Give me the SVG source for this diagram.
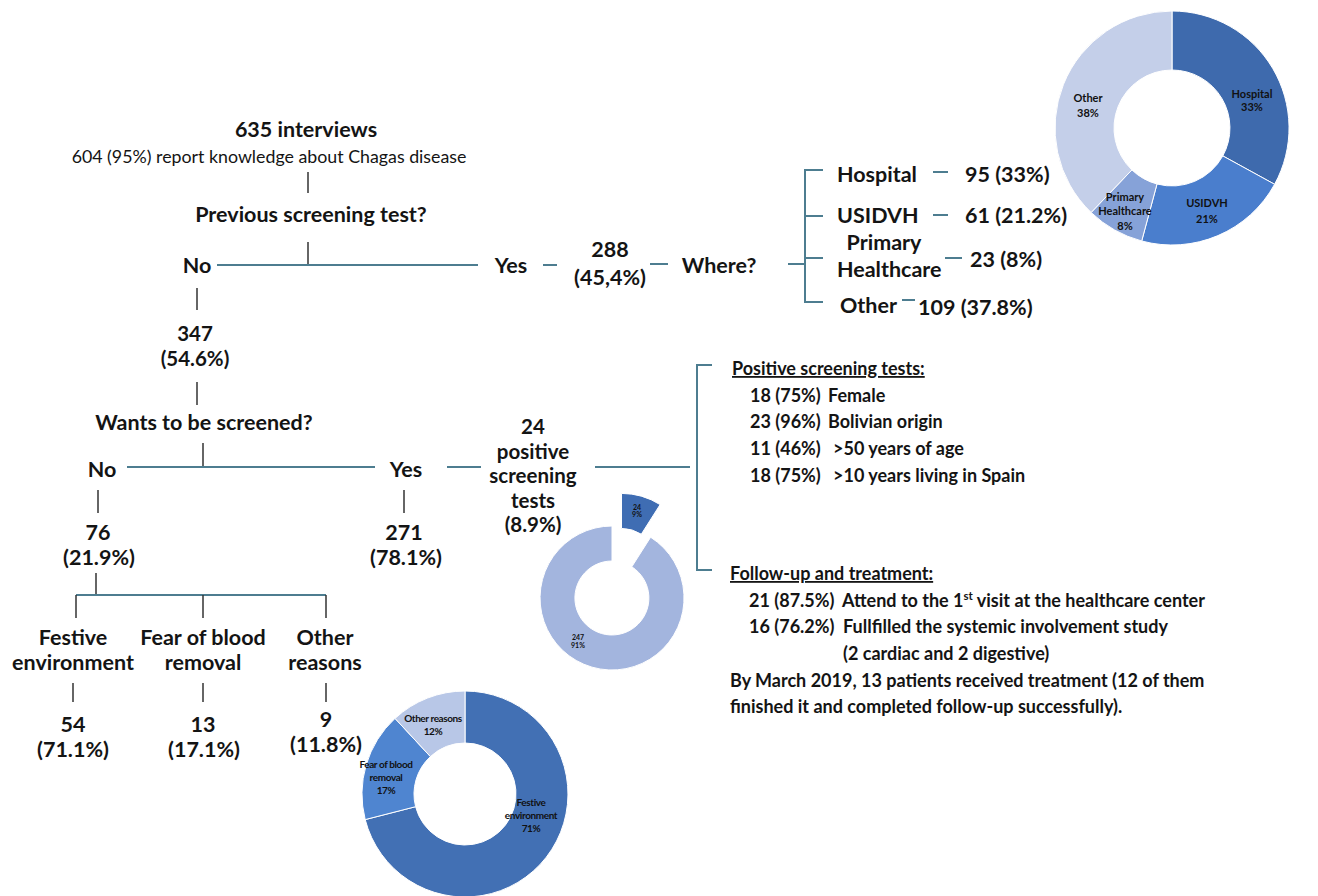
<svg xmlns="http://www.w3.org/2000/svg" width="1318" height="896" viewBox="0 0 1318 896">
<style>
text{font-family:Lato,"Open Sans","Liberation Sans",sans-serif;fill:#141414}
.b{font-weight:700;font-size:21.5px;text-anchor:middle}
.bk{font-weight:700;font-size:20.5px;text-anchor:middle}
.bs{font-weight:700;font-size:21.5px}
.r{font-weight:400;font-size:17.8px;text-anchor:middle}
.t{font-weight:700;font-size:18px}
.u{text-decoration:underline}
.d{font-weight:700;font-size:11px;text-anchor:middle;fill:#111}
.d7{font-weight:700;font-size:7px;text-anchor:middle;fill:#111}
.d10{font-weight:700;font-size:10px;text-anchor:middle;fill:#111;letter-spacing:-0.4px}
.ln{stroke:#4d7d90;stroke-width:2;fill:none}
.tk{stroke:#333;stroke-width:1.5;fill:none}
.seg{stroke:#fff;stroke-width:1}
</style>
<rect width="1318" height="896" fill="#fff"/>

<g id="connectors">
<line class="tk" x1="308" y1="172" x2="308" y2="193"/>
<line class="tk" x1="308" y1="242" x2="308" y2="265"/>
<line class="ln" x1="217" y1="265" x2="478" y2="265"/>
<line class="ln" x1="543" y1="265" x2="557" y2="265"/>
<line class="ln" x1="650" y1="264" x2="668" y2="264"/>
<line class="ln" x1="788" y1="264" x2="805" y2="264"/>
<path class="ln" d="M823,170 H805 V302 H823 M805,216 H823 M805,258 H823"/>
<line class="ln" x1="933" y1="172" x2="948" y2="172"/>
<line class="ln" x1="933" y1="215" x2="948" y2="215"/>
<line class="ln" x1="945" y1="258" x2="962" y2="258"/>
<line class="ln" x1="902" y1="300" x2="915" y2="300"/>
<line class="tk" x1="197" y1="288" x2="197" y2="310"/>
<line class="tk" x1="197" y1="382" x2="197" y2="405"/>
<line class="tk" x1="203" y1="443" x2="203" y2="467"/>
<line class="ln" x1="127" y1="467" x2="375" y2="467"/>
<line class="ln" x1="447" y1="467" x2="481" y2="467"/>
<line class="ln" x1="595" y1="467" x2="690" y2="467"/>
<path class="ln" d="M712,365 H697 V570 H712"/>
<line class="tk" x1="98" y1="490" x2="98" y2="513"/>
<line class="tk" x1="404" y1="490" x2="404" y2="513"/>
<line class="tk" x1="96" y1="573" x2="96" y2="595"/>
<line class="ln" x1="76" y1="595" x2="326" y2="595"/>
<line class="tk" x1="76" y1="595" x2="76" y2="618"/>
<line class="tk" x1="203" y1="595" x2="203" y2="618"/>
<line class="tk" x1="326" y1="595" x2="326" y2="618"/>
<line class="tk" x1="73" y1="683" x2="73" y2="702"/>
<line class="tk" x1="203" y1="683" x2="203" y2="702"/>
<line class="tk" x1="326" y1="683" x2="326" y2="702"/>
</g>

<g id="n-interviews">
<text class="b" x="306" y="137">635 interviews</text>
<text class="r" x="269" y="163">604 (95%) report knowledge about Chagas disease</text>
</g>
<g id="n-previous"><text class="b" x="311" y="222">Previous screening test?</text></g>
<g id="n-no1"><text class="b" x="197" y="273">No</text></g>
<g id="n-yes1"><text class="b" x="511" y="273">Yes</text></g>
<g id="n-288"><text class="b" x="610" y="257">288</text><text class="b" x="610" y="285">(45,4%)</text></g>
<g id="n-where"><text class="b" x="719" y="273">Where?</text></g>
<g id="n-hospital"><text class="bs" x="837" y="182">Hospital</text><text class="bs" x="965" y="182">95 (33%)</text></g>
<g id="n-usidvh"><text class="bs" x="837" y="223">USIDVH</text><text class="bs" x="965" y="223">61 (21.2%)</text></g>
<g id="n-primary"><text class="b" x="884" y="250">Primary</text><text class="bs" x="837" y="277">Healthcare</text><text class="bs" x="970" y="267">23 (8%)</text></g>
<g id="n-other"><text class="bs" x="840" y="313">Other</text><text class="bs" x="918" y="315">109 (37.8%)</text></g>

<g id="n-347"><text class="bk" x="195" y="341">347</text><text class="bk" x="195" y="366">(54.6%)</text></g>
<g id="n-wants"><text class="b" x="204" y="430">Wants to be screened?</text></g>
<g id="n-no2"><text class="b" x="102" y="477">No</text></g>
<g id="n-yes2"><text class="b" x="406" y="477">Yes</text></g>
<g id="n-positive">
<text class="bk" x="533" y="434">24</text>
<text class="bk" x="533" y="458.5">positive</text>
<text class="bk" x="533" y="483">screening</text>
<text class="bk" x="533" y="507.5">tests</text>
<text class="bk" x="533" y="532">(8.9%)</text>
</g>
<g id="n-76"><text class="b" x="98" y="540">76</text><text class="b" x="99" y="565">(21.9%)</text></g>
<g id="n-271"><text class="b" x="404" y="540">271</text><text class="b" x="406" y="565">(78.1%)</text></g>
<g id="n-festive"><text class="b" x="73" y="645">Festive</text><text class="b" x="73" y="670">environment</text></g>
<g id="n-fear"><text class="b" x="203" y="645">Fear of blood</text><text class="b" x="203" y="670">removal</text></g>
<g id="n-otherreasons"><text class="b" x="325" y="645">Other</text><text class="b" x="325" y="670">reasons</text></g>
<g id="n-54"><text class="b" x="73" y="732">54</text><text class="b" x="73" y="757">(71.1%)</text></g>
<g id="n-13"><text class="b" x="203" y="732">13</text><text class="b" x="204" y="757">(17.1%)</text></g>
<g id="n-9"><text class="b" x="326" y="727">9</text><text class="b" x="326" y="752">(11.8%)</text></g>

<g id="n-positive-details">
<text class="t u" x="732" y="375">Positive screening tests:</text>
<text class="t" x="750" y="402">18 (75%)</text><text class="t" x="828" y="402">Female</text>
<text class="t" x="750" y="428">23 (96%)</text><text class="t" x="828" y="428">Bolivian origin</text>
<text class="t" x="750" y="455">11 (46%)</text><text class="t" x="833" y="455">&gt;50 years of age</text>
<text class="t" x="750" y="482">18 (75%)</text><text class="t" x="833" y="482">&gt;10 years living in Spain</text>
</g>
<g id="n-followup">
<text class="t u" x="730" y="580">Follow-up and treatment:</text>
<text class="t" x="749" y="607">21 (87.5%)</text><text class="t" x="842" y="607">Attend to the 1<tspan font-size="11.5" dy="-7">st</tspan><tspan dy="7"> visit at the healthcare center</tspan></text>
<text class="t" x="749" y="633">16 (76.2%)</text><text class="t" x="843" y="633">Fullfilled the systemic involvement study</text>
<text class="t" x="843" y="660">(2 cardiac and 2 digestive)</text>
<text class="t" x="730" y="687">By March 2019, 13 patients received treatment (12 of them</text>
<text class="t" x="730" y="713">finished it and completed follow-up successfully).</text>
</g>

<g id="chart-where">
<path class="seg" fill="#3e6aad" d="M1172,11 A117,117 0 0 1 1274.6,184.3 L1222.8,155.9 A58,58 0 0 0 1172,70 Z"/>
<path class="seg" fill="#4a7ecd" d="M1274.6,184.3 A117,117 0 0 1 1141.7,241 L1157,184 A58,58 0 0 0 1222.8,155.9 Z"/>
<path class="seg" fill="#86a2d8" d="M1141.7,241 A117,117 0 0 1 1091.1,212.5 L1131.9,169.9 A58,58 0 0 0 1157,184 Z"/>
<path class="seg" fill="#c4cfe9" d="M1091.1,212.5 A117,117 0 0 1 1172,11 L1172,70 A58,58 0 0 0 1131.9,169.9 Z"/>
<text class="d" x="1252" y="98">Hospital</text><text class="d" x="1252" y="111">33%</text>
<text class="d" x="1207" y="207">USIDVH</text><text class="d" x="1207" y="223">21%</text>
<text class="d" x="1125" y="201">Primary</text><text class="d" x="1125" y="215">Healthcare</text><text class="d" x="1125" y="230">8%</text>
<text class="d" x="1088" y="102">Other</text><text class="d" x="1088" y="117">38%</text>
</g>

<g id="chart-positive">
<path class="seg" fill="#a3b5de" d="M650.6,537.2 A72,72 0 1 1 612,526 L612,561 A37,37 0 1 0 631.8,566.8 Z"/>
<path class="seg" fill="#3f6db3" d="M621.5,493.4 A72,72 0 0 1 660.1,504.6 L641.3,534.2 A37,37 0 0 0 621.5,528.4 Z"/>
<text class="d7" x="637" y="510">24</text><text class="d7" x="637" y="517">9%</text>
<text class="d7" x="578" y="640">247</text><text class="d7" x="578" y="648">91%</text>
</g>

<g id="chart-reasons">
<path class="seg" fill="#4270b4" d="M465,691 A103,103 0 1 1 365.2,819.6 L415.6,806.7 A51,51 0 1 0 465,743 Z"/>
<path class="seg" fill="#4f85d0" d="M365.2,819.6 A103,103 0 0 1 395,718.4 L430.4,756.6 A51,51 0 0 0 415.6,806.7 Z"/>
<path class="seg" fill="#b8c7e7" d="M395,718.4 A103,103 0 0 1 465,691 L465,743 A51,51 0 0 0 430.4,756.6 Z"/>
<text class="d10" x="433" y="722">Other reasons</text><text class="d10" x="433" y="735">12%</text>
<text class="d10" x="386" y="768">Fear of blood</text><text class="d10" x="386" y="781">removal</text><text class="d10" x="386" y="794">17%</text>
<text class="d10" x="531" y="806">Festive</text><text class="d10" x="531" y="819">environment</text><text class="d10" x="531" y="832">71%</text>
</g>
</svg>
